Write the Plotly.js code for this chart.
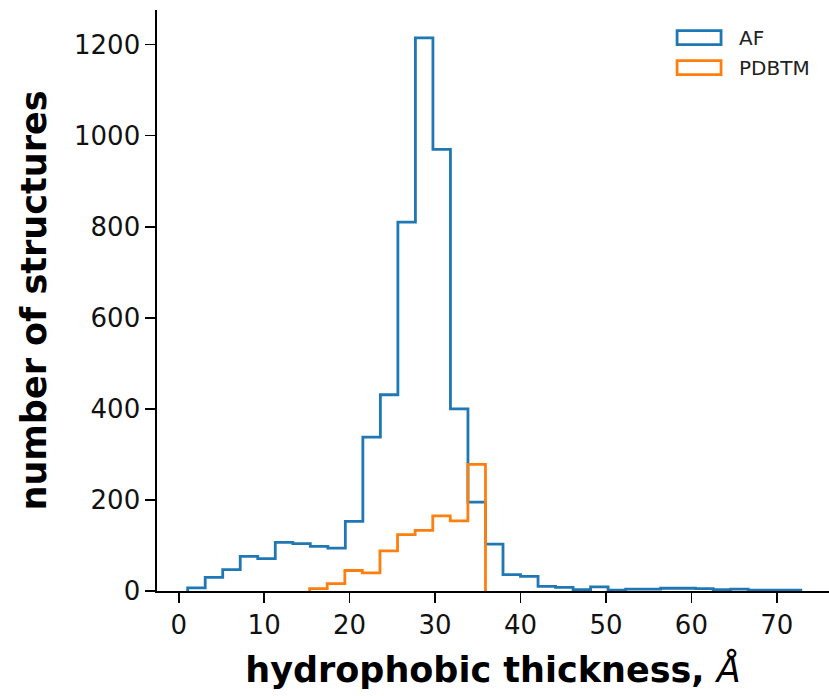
<!DOCTYPE html>
<html><head><meta charset="utf-8">
<script src="https://cdn.plot.ly/plotly-3.0.1.min.js"></script>
<style>html,body{margin:0;padding:0;background:#fff}</style>
</head><body><div id="chart" style="width:829px;height:696px"></div>
<script>
// AF histogram bin edges (Å) and counts
const afEdges = [1.05, 3.10, 5.15, 7.20, 9.25, 11.30, 13.35, 15.40, 17.45, 19.50, 21.55, 23.60,
  25.65, 27.70, 29.75, 31.80, 33.85, 35.90, 37.95, 40.00, 42.05, 44.10, 46.15, 48.20, 50.25,
  52.30, 54.35, 56.40, 58.45, 60.50, 62.55, 64.60, 66.65, 68.70, 70.75, 72.80];
const afCounts = [7, 30, 47, 76, 71, 107, 104, 98, 94, 153, 338, 431, 810, 1215, 970, 400, 195,
  103, 36, 32, 10, 8, 3, 9, 2, 4, 4, 6, 6, 5, 3, 4, 2, 2, 2];
// PDBTM histogram bin edges (Å) and counts
const pdbEdges = [15.32, 17.38, 19.44, 21.49, 23.55, 25.61, 27.67, 29.73, 31.78, 33.84, 35.90];
const pdbCounts = [5, 16, 45, 40, 88, 124, 133, 165, 154, 278];

const seriesNames = ['AF', 'PDBTM'];
const seriesColors = ['#1f77b4', '#ff7f0e'];
const xTicks = [0, 10, 20, 30, 40, 50, 60, 70];
const yTicks = [0, 200, 400, 600, 800, 1000, 1200];

function stepXY(edges, counts) {
  const x = [edges[0]], y = [0];
  for (let i = 0; i < counts.length; i++) { x.push(edges[i]); y.push(counts[i]); }
  x.push(edges[edges.length - 1]); y.push(counts[counts.length - 1]);
  x.push(edges[edges.length - 1]); y.push(0);
  return {x, y};
}
const a = stepXY(afEdges, afCounts);
const p = stepXY(pdbEdges, pdbCounts);

const traces = [
  {type: 'scatter', mode: 'lines', x: a.x, y: a.y, name: seriesNames[0],
   line: {shape: 'hv', color: seriesColors[0], width: 2.8}, showlegend: false, hoverinfo: 'skip'},
  {type: 'scatter', mode: 'lines', x: p.x, y: p.y, name: seriesNames[1],
   line: {shape: 'hv', color: seriesColors[1], width: 2.8}, showlegend: false, hoverinfo: 'skip'}
];

const L = 156.6, T = 10.4, B = 105;
const W = 829, H = 696;
const pw = W - L, ph = H - T - B;
const px = v => (v - L) / pw;
const py = v => (H - B - v) / ph;

const shapes = [
  {type: 'rect', xref: 'paper', yref: 'paper', x0: px(677), x1: px(721), y0: py(45), y1: py(31),
   line: {color: seriesColors[0], width: 2.8}, fillcolor: 'rgba(0,0,0,0)'},
  {type: 'rect', xref: 'paper', yref: 'paper', x0: px(677), x1: px(721), y0: py(75), y1: py(61),
   line: {color: seriesColors[1], width: 2.8}, fillcolor: 'rgba(0,0,0,0)'}
];
const annotations = [
  {xref: 'paper', yref: 'paper', x: px(737), y: py(38), xanchor: 'left', yanchor: 'middle',
   text: seriesNames[0], showarrow: false, font: {family: 'DejaVu Sans', size: 20, color: '#222'}},
  {xref: 'paper', yref: 'paper', x: px(737), y: py(68), xanchor: 'left', yanchor: 'middle',
   text: seriesNames[1], showarrow: false, font: {family: 'DejaVu Sans', size: 20, color: '#222'}}
];

const layout = {
  width: W, height: H,
  margin: {l: L, r: 0, t: T, b: B, pad: 0},
  paper_bgcolor: '#fff', plot_bgcolor: '#fff',
  showlegend: false,
  font: {family: 'DejaVu Sans', color: '#000'},
  xaxis: {
    range: [-2.54, 76.1], tickvals: xTicks, ticktext: xTicks.map(String),
    showgrid: false, zeroline: false, showline: true, linecolor: '#000', linewidth: 1.6,
    ticks: 'outside', ticklen: 10, tickwidth: 1.6, tickcolor: '#000',
    tickfont: {family: 'DejaVu Sans', size: 26, color: '#111'},
    title: {text: 'hydrophobic thickness, <span style="font-weight:normal"><i>Å</i></span>',
      font: {family: 'DejaVu Sans', size: 35, weight: 'bold', color: '#000'}, standoff: 19}
  },
  yaxis: {
    range: [0, 1276], tickvals: yTicks, ticktext: yTicks.map(String),
    showgrid: false, zeroline: false, showline: true, linecolor: '#000', linewidth: 1.6,
    ticks: 'outside', ticklen: 10, tickwidth: 1.6, tickcolor: '#000',
    tickfont: {family: 'DejaVu Sans', size: 26, color: '#111'},
    title: {text: 'number of structures',
      font: {family: 'DejaVu Sans', size: 35, weight: 'bold', color: '#000'}, standoff: 17}
  },
  shapes, annotations
};
Plotly.newPlot('chart', traces, layout, {displayModeBar: false, staticPlot: true});
</script></body></html>
